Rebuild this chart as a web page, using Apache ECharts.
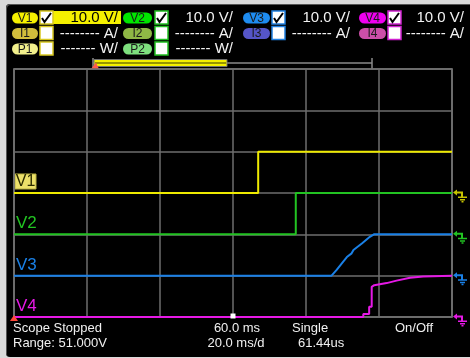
<!DOCTYPE html>
<html>
<head>
<meta charset="utf-8">
<script src="https://cdn.jsdelivr.net/npm/echarts@6/dist/echarts.min.js"></script>
<style>
  html, body { margin: 0; padding: 0; background: #dadada; }
  #panel { position: absolute; left: 6px; top: 4px; width: 470px; height: 353px;
           background: #000; border-top-left-radius: 4px; border-bottom-left-radius: 4px;
           box-shadow: inset 1px 1px 0 #555; }
  #main { position: absolute; left: 0; top: 0; width: 470px; height: 358px; }
</style>
</head>
<body>
<div id="panel"></div>
<div id="main"></div>
<script>
// time axis: 20 ms/div, 6 div
var time_ticks = [0, 20, 40, 60, 80, 100, 120];
var volts_per_div = 10;

// 各通道的地线位置 (div)
var v1_offset = 3, v2_offset = 2, v3_offset = 1, v4_offset = 0;

var v1_time = [0, 66.9, 66.9, 120];
var v1_volts = [0, 0, 10, 10];

var v2_time = [0, 77.2, 77.2, 120];
var v2_volts = [0, 0, 10, 10];

var v3_time = [0, 87.0, 88.4, 90.2, 91.2, 92.5, 93.0, 95.3, 97.5, 98.6, 120];
var v3_volts = [0, 0, 1.4, 3.4, 4.5, 5.4, 6.2, 7.8, 9.4, 10, 10];

var v4_time = [0, 95.7, 95.7, 97.3, 97.3, 98.0, 98.0, 98.7, 102.1, 104.8, 108.5, 112.1, 120];
var v4_volts = [0, 0, 0.7, 0.7, 2.5, 2.5, 7.3, 7.7, 8.2, 8.8, 9.5, 9.8, 10];

function toDiv(times, volts, offset) {
	var out = [];
	for (var i = 0; i < times.length; i++) {
		out.push([times[i], offset + volts[i] / volts_per_div]);
	}
	return out;
}

// 地线标记 (arrow + ground)
var gndPath = 'path://M0 4 L4 1 L4 3 L9 3 L9 5 L4 5 L4 7 Z M8 3 L10 3 L10 8 L8 8 Z M5 8 L14 8 L14 9.5 L5 9.5 Z M7 10.5 L12 10.5 L12 12 L7 12 Z M8.5 12.5 L10.5 12.5 L10.5 14 L8.5 14 Z';

function gndMark(offset, color) {
	return {
		silent: true,
		animation: false,
		data: [{
			coord: [120, offset],
			symbol: gndPath,
			symbolSize: [14, 13],
			symbolOffset: [8, 3],
			itemStyle: { color: color },
			label: { show: false }
		}]
	};
}

function trace(name, data, color, mark) {
	return {
		name: name,
		type: 'line',
		data: data,
		showSymbol: false,
		animation: false,
		lineStyle: { color: color, width: 2 },
		markPoint: mark
	};
}

// 顶部通道面板
var font = 'Liberation Sans';
var cols = [
	{ pillX: 12, pillW: 26, boxX: 40, txtR: 118, border: '#d8c820' },
	{ pillX: 123, pillW: 29, boxX: 155, txtR: 233, border: '#20c020' },
	{ pillX: 243, pillW: 27, boxX: 272, txtR: 350, border: '#2080e0' },
	{ pillX: 359, pillW: 27, boxX: 388, txtR: 464, border: '#d020d0' }
];
var rows = [
	{ y: 11, labels: ['V1', 'V2', 'V3', 'V4'], fills: ['#f5f000', '#00e600', '#1e8cf0', '#f000f0'], text: '10.0 V/', check: true },
	{ y: 26.5, labels: ['I1', 'I2', 'I3', 'I4'], fills: ['#d2be3c', '#8fb845', '#5555c8', '#cc4fa8'], text: '-------- A/', check: false },
	{ y: 42, labels: ['P1', 'P2'], fills: ['#f2f08c', '#7ee07e'], text: '------- W/', check: false }
];

var graphics = [];
// V1 highlighted value box
graphics.push({ type: 'rect', shape: { x: 53, y: 11, width: 68, height: 13 }, style: { fill: '#f5f000' } });

for (var r = 0; r < rows.length; r++) {
	var row = rows[r];
	for (var c = 0; c < row.labels.length; c++) {
		var col = cols[c];
		graphics.push({
			type: 'rect',
			shape: { x: col.pillX, y: row.y + 1.5, width: col.pillW, height: 11, r: 5.5 },
			style: { fill: row.fills[c] }
		});
		graphics.push({
			type: 'text',
			x: col.pillX + col.pillW / 2, y: row.y + 7.5,
			style: { text: row.labels[c], fill: '#1a1a1a', font: '12px ' + font, align: 'center', verticalAlign: 'middle' }
		});
		graphics.push({
			type: 'rect',
			shape: { x: col.boxX, y: row.y, width: 13, height: 13 },
			style: { fill: '#ffffff', stroke: col.border, lineWidth: 1.5 }
		});
		if (row.check) {
			graphics.push({
				type: 'polyline',
				shape: { points: [[col.boxX + 2, row.y + 7], [col.boxX + 4.5, row.y + 11], [col.boxX + 11, row.y + 2]] },
				style: { stroke: '#000', lineWidth: 2, fill: null }
			});
		}
		graphics.push({
			type: 'text',
			x: col.txtR, y: row.y + 7,
			style: { text: row.text, fill: (r === 0 && c === 0) ? '#000' : '#f2f2f2', font: '15px ' + font, align: 'right', verticalAlign: 'middle' }
		});
	}
}

// 时间窗口条
graphics.push({ type: 'line', shape: { x1: 93, y1: 63, x2: 372, y2: 63 }, style: { stroke: '#8a8a8a', lineWidth: 1.5 } });
graphics.push({ type: 'line', shape: { x1: 93, y1: 58, x2: 93, y2: 69 }, style: { stroke: '#8a8a8a', lineWidth: 1.5 } });
graphics.push({ type: 'line', shape: { x1: 372, y1: 58, x2: 372, y2: 69 }, style: { stroke: '#8a8a8a', lineWidth: 1.5 } });
graphics.push({ type: 'rect', shape: { x: 94, y: 59.5, width: 133, height: 7 }, style: { fill: '#f5f000', stroke: '#707070', lineWidth: 1 } });
graphics.push({ type: 'line', shape: { x1: 95, y1: 63, x2: 226, y2: 63 }, style: { stroke: '#3a3a00', lineWidth: 1 } });
graphics.push({ type: 'polygon', shape: { points: [[91, 69], [96, 62.5], [99, 69]] }, style: { fill: '#ff5a4a' } });

// 通道名称
graphics.push({ type: 'rect', shape: { x: 15, y: 174, width: 21, height: 15 }, style: { fill: '#ece06a', stroke: '#b8b040', lineWidth: 1 } });
graphics.push({ type: 'text', x: 25.5, y: 182, style: { text: 'V1', fill: '#2a2a00', font: '16px ' + font, align: 'center', verticalAlign: 'middle' } });
graphics.push({ type: 'text', x: 16, y: 223, style: { text: 'V2', fill: '#22c322', font: '17px ' + font, verticalAlign: 'middle' } });
graphics.push({ type: 'text', x: 16, y: 265, style: { text: 'V3', fill: '#1a80e6', font: '17px ' + font, verticalAlign: 'middle' } });
graphics.push({ type: 'text', x: 16, y: 306, style: { text: 'V4', fill: '#e619e6', font: '17px ' + font, verticalAlign: 'middle' } });

// 底部状态栏
var status_texts = [
	['Scope Stopped', 13, 328, 'left'], ['Range: 51.000V', 13, 343.5, 'left'],
	['60.0 ms', 237, 328, 'center'], ['20.0 ms/d', 236, 343.5, 'center'],
	['Single', 292, 328, 'left'], ['61.44us', 298, 343.5, 'left'],
	['On/Off', 395, 328, 'left']
];
for (var s = 0; s < status_texts.length; s++) {
	graphics.push({
		type: 'text', x: status_texts[s][1], y: status_texts[s][2],
		style: { text: status_texts[s][0], fill: '#f0f0f0', font: '13px ' + font, align: status_texts[s][3], verticalAlign: 'middle' }
	});
}

var v4Mark = gndMark(v4_offset, '#e619e6');
v4Mark.data.push({ coord: [60, 0], symbol: 'rect', symbolSize: 5, symbolOffset: [0, -1], itemStyle: { color: '#ffffff' }, label: { show: false } });
v4Mark.data.push({ coord: [0, 0], symbol: 'triangle', symbolSize: [8, 6], symbolOffset: [0, 1], itemStyle: { color: '#ff4a3a' }, label: { show: false } });

var option = {
	backgroundColor: 'transparent',
	animation: false,
	grid: {
		left: 14, right: 18, top: 69, bottom: 41,
		show: true, borderColor: '#8c8c8c', borderWidth: 1.5
	},
	xAxis: {
		type: 'value', min: time_ticks[0], max: time_ticks[time_ticks.length - 1], interval: 20,
		axisLabel: { show: false }, axisTick: { show: false }, axisLine: { show: false },
		splitLine: { lineStyle: { color: '#6e6e6e', width: 1.5 } }
	},
	yAxis: {
		type: 'value', min: 0, max: 6, interval: 1,
		axisLabel: { show: false }, axisTick: { show: false }, axisLine: { show: false },
		splitLine: { lineStyle: { color: '#6e6e6e', width: 1.5 } }
	},
	graphic: graphics,
	series: [
		trace('V1', toDiv(v1_time, v1_volts, v1_offset), '#eeea00', gndMark(v1_offset, '#c8c400')),
		trace('V2', toDiv(v2_time, v2_volts, v2_offset), '#22c322', gndMark(v2_offset, '#22c322')),
		trace('V3', toDiv(v3_time, v3_volts, v3_offset), '#1a80e6', gndMark(v3_offset, '#1a80e6')),
		trace('V4', toDiv(v4_time, v4_volts, v4_offset), '#e619e6', v4Mark)
	]
};

var myChart = echarts.init(document.getElementById('main'), null, { renderer: 'canvas' });
myChart.setOption(option);
</script>
</body>
</html>
